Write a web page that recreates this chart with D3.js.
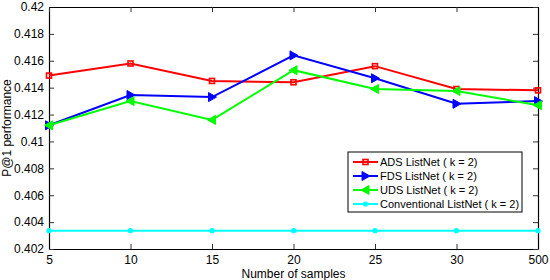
<!DOCTYPE html>
<html>
<head>
<meta charset="utf-8">
<script src="https://cdn.jsdelivr.net/npm/d3@7"></script>
<style>
  body { margin: 0; background: #fff; }
  text { font-family: "Liberation Sans", Arial, sans-serif; fill: #000; }
</style>
</head>
<body>
<div id="chart"></div>
<script>
// data
const samples = ["5", "10", "15", "20", "25", "30", "500"]
const ads = [0.4149, 0.4158, 0.4145, 0.4144, 0.4156, 0.4139, 0.4138]
const fds = [0.4112, 0.41345, 0.4133, 0.4164, 0.4147, 0.4128, 0.4130]
const uds = [0.4112, 0.4130, 0.4116, 0.4153, 0.4139, 0.41375, 0.4127]
const conventional = [0.40336, 0.40336, 0.40336, 0.40336, 0.40336, 0.40336, 0.40336]
const yTicks = [0.402, 0.404, 0.406, 0.408, 0.41, 0.412, 0.414, 0.416, 0.418, 0.42]

const series = [
  { name: "ADS ListNet ( k = 2)", values: ads, color: "#ff0000", marker: "square" },
  { name: "FDS ListNet ( k = 2)", values: fds, color: "#0000ff", marker: "right" },
  { name: "UDS ListNet ( k = 2)", values: uds, color: "#00ff00", marker: "left" },
  { name: "Conventional ListNet ( k = 2)", values: conventional, color: "#00ffff", marker: "dot" }
]

const width = 550, height = 280
const margin = { top: 7, right: 12, bottom: 31, left: 49 }
const innerW = width - margin.left - margin.right
const innerH = height - margin.top - margin.bottom

const svg = d3.select("#chart").append("svg")
  .attr("width", width)
  .attr("height", height)

const g = svg.append("g").attr("transform", `translate(${margin.left},${margin.top})`)

const x = d3.scalePoint().domain(samples).range([0, innerW])
const y = d3.scaleLinear().domain([0.402, 0.42]).range([innerH, 0])

// axes with inward ticks
const fmt = d => d3.format("")(+d.toFixed(3))
g.append("g").attr("transform", `translate(0,${innerH})`)
  .call(d3.axisBottom(x).tickSizeInner(-5).tickSizeOuter(0).tickPadding(6))
g.append("g")
  .call(d3.axisLeft(y).tickValues(yTicks).tickFormat(fmt).tickSizeInner(-5).tickSizeOuter(0).tickPadding(5))
g.append("g")
  .call(d3.axisTop(x).tickSizeInner(-5).tickSizeOuter(0).tickFormat(""))
g.append("g").attr("transform", `translate(${innerW},0)`)
  .call(d3.axisRight(y).tickValues(yTicks).tickSizeInner(-5).tickSizeOuter(0).tickFormat(""))

g.selectAll(".domain").attr("stroke", "#000").attr("stroke-width", 1.2)
g.selectAll(".tick line").attr("stroke", "#333")
g.selectAll(".tick text").style("font-size", "12px").attr("fill", "#000")

function drawMarker(sel, type, color) {
  if (type === "square") {
    sel.append("rect").attr("x", -2.5).attr("y", -2.5).attr("width", 5).attr("height", 5)
      .attr("fill", "none").attr("stroke", color).attr("stroke-width", 1.6)
  } else if (type === "right") {
    sel.append("path").attr("d", "M-3.5,-4.5L4.5,0L-3.5,4.5Z").attr("fill", color).attr("stroke", color)
  } else if (type === "left") {
    sel.append("path").attr("d", "M3.5,-4.5L-4.5,0L3.5,4.5Z").attr("fill", color).attr("stroke", color)
  } else {
    sel.append("circle").attr("r", 2.6).attr("fill", color)
  }
}

const line = d3.line().x((d, i) => x(samples[i])).y(d => y(d))

series.forEach(s => {
  g.append("path").datum(s.values)
    .attr("d", line)
    .attr("fill", "none")
    .attr("stroke", s.color)
    .attr("stroke-width", 2)
  s.values.forEach((v, i) => {
    const m = g.append("g").attr("transform", `translate(${x(samples[i])},${y(v)})`)
    drawMarker(m, s.marker, s.color)
  })
})

// legend
const legend = g.append("g").attr("transform", `translate(${348 - margin.left},${152 - margin.top})`)
legend.append("rect").attr("width", 174).attr("height", 60)
  .attr("fill", "#fff").attr("stroke", "#000").attr("stroke-width", 1)
series.forEach((s, i) => {
  const row = legend.append("g").attr("transform", `translate(0,${10 + i * 14})`)
  row.append("line").attr("x1", 5).attr("x2", 30).attr("stroke", s.color).attr("stroke-width", 2)
  const m = row.append("g").attr("transform", "translate(17.5,0)")
  drawMarker(m, s.marker, s.color)
  row.append("text").attr("x", 32).attr("y", 4).style("font-size", "11px").text(s.name)
})

// axis titles
svg.append("text")
  .attr("x", margin.left + innerW / 2).attr("y", 277.5)
  .attr("text-anchor", "middle").style("font-size", "12px")
  .text("Number of samples")
svg.append("text")
  .attr("transform", `translate(11,${margin.top + innerH / 2}) rotate(-90)`)
  .attr("text-anchor", "middle").style("font-size", "12px")
  .text("P@1 performance")
</script>
</body>
</html>
